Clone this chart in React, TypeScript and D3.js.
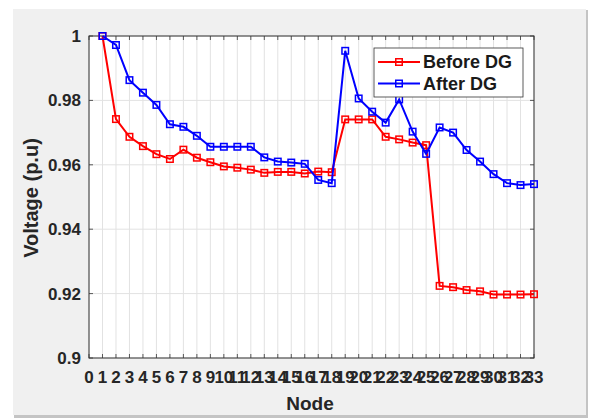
import React from "react";
import * as d3 from "d3";

const nodes: number[] = d3.range(1, 34);

const beforeDG: number[] = [
  1.0, 0.9742, 0.9687, 0.9658, 0.9633, 0.9618, 0.9647, 0.9622, 0.9608, 0.9595,
  0.9591, 0.9585, 0.9575, 0.9578, 0.9578, 0.9573, 0.9579, 0.9577, 0.9741, 0.9741,
  0.9741, 0.9687, 0.9679, 0.9669, 0.9661, 0.9224, 0.922, 0.9211, 0.9207, 0.9197,
  0.9197, 0.9197, 0.9198,
];

const afterDG: number[] = [
  1.0, 0.9972, 0.9863, 0.9824, 0.9786, 0.9726, 0.9718, 0.969, 0.9656, 0.9656,
  0.9656, 0.9656, 0.9623, 0.961, 0.9607, 0.9603, 0.9553, 0.9543, 0.9954, 0.9806,
  0.9765, 0.9731, 0.9803, 0.9703, 0.9634, 0.9716, 0.97, 0.9646, 0.961, 0.9571,
  0.9543, 0.9537, 0.954,
];

const xTicks: number[] = d3.range(0, 34);
const yTicks: number[] = [0.9, 0.92, 0.94, 0.96, 0.98, 1];

const seriesList = [
  { name: "Before DG", values: beforeDG, color: "#ff0000" },
  { name: "After DG", values: afterDG, color: "#0000ff" },
];

const W = 590;
const H = 419;
const left = 89;
const right = 534;
const top = 36;
const bottom = 358;
const font = "'Liberation Sans', Arial, sans-serif";

export default function App() {
  const x = d3.scaleLinear().domain([0, 33]).range([left, right]);
  const y = d3.scaleLinear().domain([0.9, 1]).range([bottom, top]);
  const line = d3
    .line<number>()
    .x((_, i) => x(nodes[i]))
    .y((d) => y(d));
  const ms = 6.5;

  return (
    <svg
      width={W}
      height={H}
      style={{ position: "absolute", left: 0, top: 0, background: "#ffffff" }}
    >
      {/* figure panel with soft shadow edges */}
      <rect x={14} y={10} width={574} height={408} fill="#c4c4c4" />
      <rect x={13} y={9} width={573} height={406} fill="#f0f0f0" />

      {/* axes area */}
      <rect x={left} y={top} width={right - left} height={bottom - top} fill="#ffffff" />

      {/* grid */}
      {xTicks.map((t) => (
        <line
          key={"gx" + t}
          x1={x(t)}
          x2={x(t)}
          y1={top}
          y2={bottom}
          stroke="#e2e2e2"
          strokeWidth={1}
        />
      ))}
      {yTicks.map((t) => (
        <line
          key={"gy" + t}
          x1={left}
          x2={right}
          y1={y(t)}
          y2={y(t)}
          stroke="#e2e2e2"
          strokeWidth={1}
        />
      ))}

      {/* tick marks (inward, on all sides) */}
      {xTicks.map((t) => (
        <g key={"tx" + t}>
          <line x1={x(t)} x2={x(t)} y1={bottom} y2={bottom - 4} stroke="#333" strokeWidth={0.8} />
          <line x1={x(t)} x2={x(t)} y1={top} y2={top + 4} stroke="#333" strokeWidth={0.8} />
        </g>
      ))}
      {yTicks.map((t) => (
        <g key={"ty" + t}>
          <line x1={left} x2={left + 4} y1={y(t)} y2={y(t)} stroke="#333" strokeWidth={0.8} />
          <line x1={right} x2={right - 4} y1={y(t)} y2={y(t)} stroke="#333" strokeWidth={0.8} />
        </g>
      ))}

      {/* box */}
      <rect
        x={left}
        y={top}
        width={right - left}
        height={bottom - top}
        fill="none"
        stroke="#333"
        strokeWidth={1}
      />

      {/* series */}
      {seriesList.map((s) => (
        <g key={s.name}>
          <path d={line(s.values) || ""} fill="none" stroke={s.color} strokeWidth={2} />
          {s.values.map((v, i) => (
            <rect
              key={i}
              x={x(nodes[i]) - ms / 2}
              y={y(v) - ms / 2}
              width={ms}
              height={ms}
              fill="none"
              stroke={s.color}
              strokeWidth={1.5}
            />
          ))}
        </g>
      ))}

      {/* y tick labels */}
      {yTicks.map((t) => (
        <text
          key={"ly" + t}
          x={81}
          y={y(t)}
          dy="0.35em"
          textAnchor="end"
          fontFamily={font}
          fontWeight="bold"
          fontSize={17}
          fill="#262626"
        >
          {d3.format("~g")(t)}
        </text>
      ))}

      {/* x tick labels */}
      {xTicks.map((t) => (
        <text
          key={"lx" + t}
          x={x(t)}
          y={383}
          textAnchor="middle"
          fontFamily={font}
          fontWeight="bold"
          fontSize={17}
          fill="#262626"
        >
          {t}
        </text>
      ))}

      {/* axis titles */}
      <text
        x={310}
        y={410}
        textAnchor="middle"
        fontFamily={font}
        fontWeight="bold"
        fontSize={19}
        fill="#262626"
      >
        Node
      </text>
      <text
        transform={`translate(38, 198) rotate(-90)`}
        textAnchor="middle"
        fontFamily={font}
        fontWeight="bold"
        fontSize={20}
        fill="#262626"
      >
        Voltage (p.u)
      </text>

      {/* legend */}
      <g>
        <rect x={374} y={48} width={149} height={49} fill="#ffffff" stroke="#333" strokeWidth={0.8} />
        {seriesList.map((s, i) => {
          const ly = 62 + i * 21.5;
          return (
            <g key={"lg" + s.name}>
              <line x1={378} x2={420} y1={ly} y2={ly} stroke={s.color} strokeWidth={2} />
              <rect
                x={399 - ms / 2}
                y={ly - ms / 2}
                width={ms}
                height={ms}
                fill="none"
                stroke={s.color}
                strokeWidth={1.5}
              />
              <text
                x={423}
                y={ly}
                dy="0.35em"
                fontFamily={font}
                fontWeight="bold"
                fontSize={18}
                fill="#1a1a1a"
              >
                {s.name}
              </text>
            </g>
          );
        })}
      </g>
    </svg>
  );
}
